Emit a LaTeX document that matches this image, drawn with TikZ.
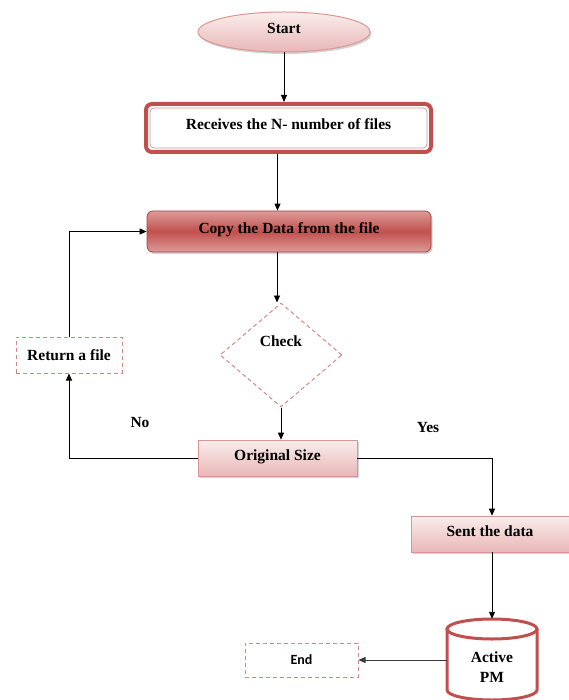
\documentclass[tikz,border=0pt]{standalone}
\usepackage{fontspec}
\setmainfont{Liberation Serif}
\newfontfamily\endfont{Carlito}
\usetikzlibrary{arrows.meta,shapes.geometric,shadows,calc}

\definecolor{accent}{HTML}{C0504D}
\definecolor{pinklight}{HTML}{FAEDED}
\definecolor{pinkmid}{HTML}{E8B7B6}
\definecolor{pinkedge}{HTML}{D99694}
\definecolor{redlight}{HTML}{DD9C9A}
\definecolor{arrowgrey}{HTML}{3A3A3A}

\tikzset{
  txt/.style={font=\bfseries\fontsize{15.5}{18}\selectfont},
  boxtxt/.style={txt, text height=11pt, text depth=7pt},
  arr/.style={-{Triangle[length=7pt,width=6pt]}, line width=0.9pt, black},
  softshadow/.style={drop shadow={opacity=0.35, shadow xshift=1.5pt, shadow yshift=-2pt}},
  startshape/.style={ellipse, draw=pinkedge, line width=1pt, top color=pinklight,
    bottom color=pinkmid, minimum width=172, minimum height=40, inner sep=0, boxtxt, softshadow},
  framedbox/.style={rectangle, rounded corners=6, draw=accent, line width=4pt, fill=white,
    minimum width=285, minimum height=48, boxtxt},
  filledbox/.style={rectangle, rounded corners=6, draw=accent!85!black, line width=0.8pt,
    top color=redlight, bottom color=redlight, middle color=accent,
    minimum width=284, minimum height=41, boxtxt, softshadow},
  pinkbox/.style={rectangle, draw=pinkedge, line width=0.6pt, top color=pinklight,
    bottom color=pinkmid, minimum height=36, boxtxt, softshadow},
  dashbox/.style={rectangle, draw=pinkedge!80!accent, line width=1pt,
    dash pattern=on 4pt off 3pt, fill=white, txt},
  decision/.style={diamond, draw=pinkedge!80!accent, line width=1pt,
    dash pattern=on 4pt off 3pt, minimum width=122, minimum height=104, inner sep=0},
  cyl/.style={draw=accent, line width=3pt, fill=white},
}

\begin{document}
\begin{tikzpicture}[x=1pt, y=-1pt]
\useasboundingbox (0,0) rectangle (569,700);

% process boxes
\node[startshape] (start) at (284,32) {Start};
\node[framedbox] (recv) at (288.5,128) {Receives the N- number of files};
\draw[pinkedge, line width=0.8pt, rounded corners=4]
  ($(recv.south west)+(6,-6)$) rectangle ($(recv.north east)+(-6,6)$);
\node[filledbox] (copy) at (289,231.5) {Copy the Data from the file};

% decision
\node[decision] (check) at (281,355) {};
\node[txt] (checktxt) at (281,341) {Check};

\node[pinkbox, minimum width=159] (orig) at (277.5,458) {Original Size};
\node[dashbox, minimum width=106, minimum height=36] (ret) at (69,355) {Return a file};
\node[pinkbox, minimum width=158] (sent) at (490,534) {Sent the data};
\node[dashbox, minimum width=113, minimum height=34, font=\endfont\bfseries\fontsize{14}{16}\selectfont] (endbox) at (301.5,660) {End};

% storage cylinder
\node[minimum width=90, minimum height=82, inner sep=0] (pm) at (492,660) {};
\fill[white] (447,629) rectangle (537,700);
\draw[cyl] (447,629) -- (447,690) arc[start angle=180, end angle=0, x radius=45, y radius=10] -- (537,629);
\draw[cyl] (492,629) ellipse[x radius=45, y radius=10];
\node[txt, font=\bfseries\fontsize{15.5}{20}\selectfont, align=center] (pmtxt) at (492,667) {Active\\PM};

% branch labels
\node[txt] (no) at (140,422) {No};
\node[txt] (yes) at (428,427) {Yes};

% connectors
\draw[arr] (start.south) -- (start.south |- recv.north);
\draw[arr] ([xshift=-11pt]recv.south) -- ([xshift=-11pt]recv.south |- copy.north);
\draw[arr] ([xshift=-12pt]copy.south) -- ([xshift=-12pt]copy.south |- check.north);
\draw[arr] (check.south) -- (check.south |- orig.north);
\draw[arr] (orig.west) -| (ret.south);
\draw[arr] (ret.north) |- (copy.west);
\draw[arr] (orig.east) -| ([xshift=2pt]sent.north);
\draw[arr] ([xshift=2pt]sent.south) -- ([xshift=2pt]sent.south |- pm.north);
\draw[arr, arrowgrey] (pm.west) -- (endbox.east);
\end{tikzpicture}
\end{document}
